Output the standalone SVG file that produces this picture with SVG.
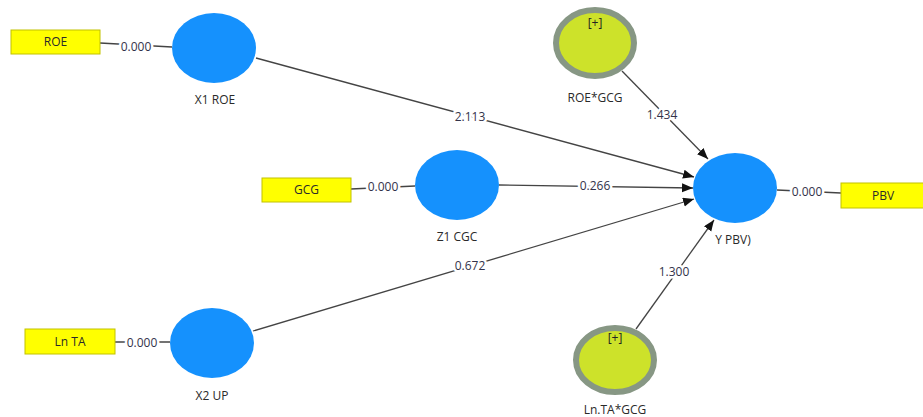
<svg xmlns="http://www.w3.org/2000/svg" width="923" height="417" viewBox="0 0 923 417">
  <style>
    .lv { fill: #1591fd; }
    .mod { fill: #cde22a; stroke: #879784; stroke-width: 6; }
    .ind { fill: #ffff00; stroke: #c2c200; stroke-width: 1; }
    .edge { stroke: #444; stroke-width: 1.3; fill: none; }
    .lbl { font-family: "Open Sans", "Noto Sans", sans-serif; font-size: 12px; fill: #2a2a2a; text-anchor: middle; }
    .num { font-family: "Open Sans", "Noto Sans", sans-serif; font-size: 12px; fill: #33334a; text-anchor: middle;
           paint-order: stroke; stroke: #fff; stroke-width: 5px; stroke-linejoin: round; }
    .box { font-family: "Open Sans", "Noto Sans", sans-serif; font-size: 12px; fill: #2a2a2a; text-anchor: middle; }
    .plus { font-family: "Open Sans", "Noto Sans", sans-serif; font-size: 12px; fill: #222; text-anchor: middle; }
  </style>
  <defs>
    <marker id="arrow" markerUnits="userSpaceOnUse" markerWidth="12" markerHeight="10" refX="11" refY="4.5" orient="auto">
      <path d="M0,0 L11,4.5 L0,9 z" fill="#111"/>
    </marker>
  </defs>
  <rect width="923" height="417" fill="#fff"/>

  <!-- connectors -->
  <g id="connectors">
    <line class="edge" x1="100" y1="43" x2="172" y2="47"/>
    <line class="edge" x1="351" y1="189" x2="415" y2="186"/>
    <line class="edge" x1="115" y1="342" x2="170" y2="342"/>
    <line class="edge" x1="777" y1="190" x2="841" y2="193"/>
    <line class="edge" x1="256" y1="58" x2="694" y2="177" marker-end="url(#arrow)"/>
    <line class="edge" x1="499" y1="185" x2="693" y2="188" marker-end="url(#arrow)"/>
    <line class="edge" x1="253" y1="331" x2="694" y2="199" marker-end="url(#arrow)"/>
    <line class="edge" x1="622" y1="71" x2="708" y2="159" marker-end="url(#arrow)"/>
    <line class="edge" x1="636" y1="329" x2="714" y2="220" marker-end="url(#arrow)"/>
    <text class="num" x="136" y="51">0.000</text>
    <text class="num" x="383" y="191">0.000</text>
    <text class="num" x="142" y="347">0.000</text>
    <text class="num" x="807" y="196">0.000</text>
    <text class="num" x="470" y="121">2.113</text>
    <text class="num" x="595" y="190">0.266</text>
    <text class="num" x="470" y="270">0.672</text>
    <text class="num" x="662" y="119">1.434</text>
    <text class="num" x="674" y="276">1.300</text>
  </g>

  <!-- indicators -->
  <g id="ind-roe"><rect class="ind" x="11" y="30" width="89" height="24"/><text class="box" x="55.5" y="46">ROE</text></g>
  <g id="ind-gcg"><rect class="ind" x="262" y="178" width="89" height="24"/><text class="box" x="306.5" y="194">GCG</text></g>
  <g id="ind-lnta"><rect class="ind" x="25" y="329" width="90" height="25"/><text class="box" x="70" y="346">Ln TA</text></g>
  <g id="ind-pbv"><rect class="ind" x="841" y="183" width="83" height="25"/><text class="box" x="883" y="200">PBV</text></g>

  <!-- latent variables -->
  <g id="x1-roe"><ellipse class="lv" cx="214" cy="48" rx="42" ry="35"/><text class="lbl" x="215" y="104">X1 ROE</text></g>
  <g id="z1-cgc"><ellipse class="lv" cx="457" cy="185" rx="42" ry="35"/><text class="lbl" x="457" y="241">Z1 CGC</text></g>
  <g id="x2-up"><ellipse class="lv" cx="212" cy="343" rx="42" ry="35"/><text class="lbl" x="212" y="400">X2 UP</text></g>
  <g id="y-pbv"><ellipse class="lv" cx="735" cy="188" rx="42" ry="35"/><text class="lbl" x="733" y="244">Y PBV)</text></g>

  <!-- moderating effects -->
  <g id="roe-gcg"><ellipse class="mod" cx="595" cy="43" rx="39" ry="33"/><text class="plus" x="595" y="27">[+]</text><text class="lbl" x="595" y="102">ROE*GCG</text></g>
  <g id="lnta-gcg"><ellipse class="mod" cx="615" cy="360" rx="39" ry="32"/><text class="plus" x="615" y="342">[+]</text><text class="lbl" x="615" y="414">Ln.TA*GCG</text></g>
</svg>
